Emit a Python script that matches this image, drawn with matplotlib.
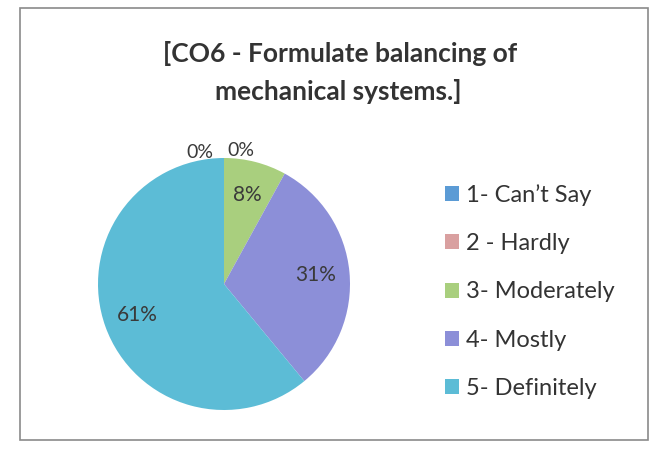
import matplotlib.pyplot as plt
from matplotlib.patches import Rectangle

plt.rcParams['font.family'] = ['Lato', 'DejaVu Sans']

categories = ["1- Can\u2019t Say", "2 - Hardly", "3- Moderately", "4- Mostly", "5- Definitely"]
shares = [0, 0, 8, 31, 61]
colors = ["#5b9bd5", "#d9a0a0", "#a9cf7e", "#8c8fd8", "#5cbcd6"]

fig = plt.figure(figsize=(6.57, 4.65), dpi=100)
fig.patch.set_facecolor("white")

# chart frame
fig.patches.append(Rectangle((20 / 657, 1 - 440 / 465), 628 / 657, 432 / 465,
                             transform=fig.transFigure, fill=False,
                             edgecolor="#8a8a8a", linewidth=1.2))

ax = fig.add_axes([98 / 657, 1 - 410 / 465, 252 / 657, 252 / 465])
wedges, texts, autotexts = ax.pie(shares, colors=colors, startangle=90,
                                  counterclock=False, autopct="%1.0f%%",
                                  pctdistance=0.73,
                                  textprops=dict(fontsize=15, color="#3a3a3a"))
ax.set_xlim(-1, 1)
ax.set_ylim(-1, 1)
ax.set_aspect("equal")

# zero slices sit outside the pie, as Excel places them
zero_pos = [(-0.19, 1.04), (0.13, 1.06)]
k = 0
for t, v in zip(autotexts, shares):
    if v == 0:
        t.set_position(zero_pos[k])
        t.set_ha("center")
        t.set_fontsize(14)
        k += 1

fig.text(0.517, 1 - 53 / 465, "[CO6 - Formulate balancing of",
         ha="center", va="center", fontsize=19, fontweight="bold", color="#333333")
fig.text(0.515, 1 - 91 / 465, "mechanical systems.]",
         ha="center", va="center", fontsize=19, fontweight="bold", color="#333333")

fig.legend(wedges, categories, loc="upper left",
           bbox_to_anchor=(424 / 657, 1 - 163 / 465), frameon=False,
           fontsize=17, labelcolor="#333333", handlelength=0.6, handleheight=0.6,
           handletextpad=0.3, labelspacing=1.15)

fig.savefig("out.png", dpi=100)
